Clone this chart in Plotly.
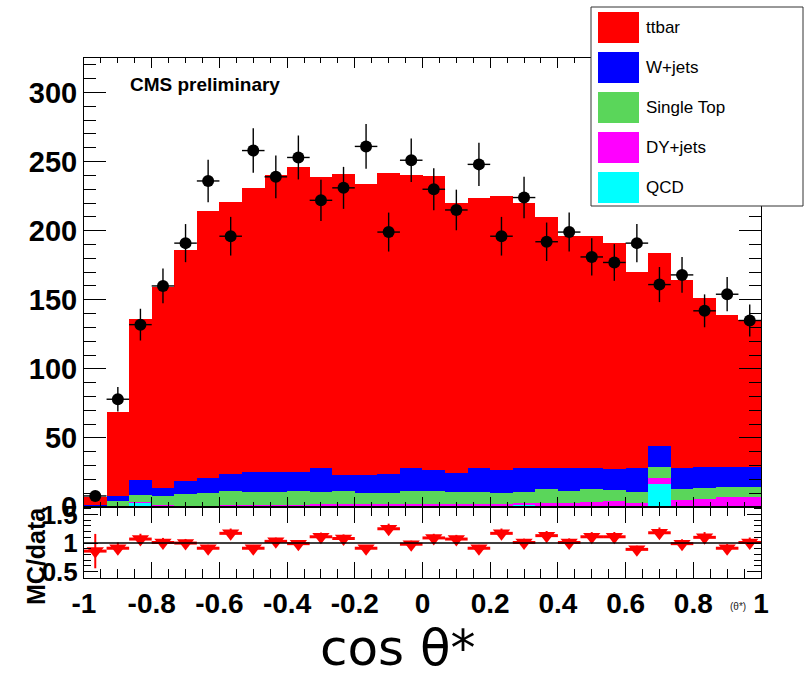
import plotly.graph_objects as go

# ---------------- data ----------------
n_bins = 30
bin_width = 2.0 / n_bins
bin_centers = [round(-1 + bin_width * (i + 0.5), 4) for i in range(n_bins)]

qcd = [0.3, 0.5, 3.0, 0.6, 0.5, 0.5, 0.5, 0.5, 0.5, 0.5,
       0.6, 0.5, 0.6, 0.5, 0.6, 0.5, 0.6, 0.5, 0.6, 1.2,
       0.8, 1.0, 0.6, 0.6, 0.6, 16.7, 0.6, 0.6, 0.6, 0.6]
dy_jets = [0.5, 0.5, 0.5, 0.5, 0.5, 0.5, 0.8, 0.8, 1.2, 1.2,
           1.8, 1.8, 1.8, 1.8, 1.8, 1.8, 1.8, 1.8, 1.8, 1.8,
           2.3, 2.1, 2.8, 4.0, 2.5, 4.6, 4.5, 5.0, 6.4, 6.9]
single_top = [0.5, 3.3, 5.2, 7.1, 8.2, 8.9, 10.3, 9.3, 8.9, 9.9,
              8.5, 9.2, 8.0, 8.0, 9.0, 9.0, 8.5, 8.5, 7.7, 7.9,
              9.7, 8.7, 9.4, 7.7, 7.5, 7.4, 7.7, 7.9, 7.3, 6.8]
w_jets = [0.5, 3.7, 10.9, 5.8, 9.6, 10.9, 12.1, 14.5, 14.5, 13.5,
          17.1, 11.6, 12.8, 13.3, 17.1, 15.6, 13.5, 17.6, 16.5, 17.6,
          15.2, 16.2, 15.2, 15.0, 17.4, 15.7, 15.2, 15.7, 14.7, 14.7]
ttbar = [5.5, 61.0, 116.4, 145.0, 167.2, 193.2, 197.3, 205.9, 214.9, 220.9,
         211.0, 217.8, 210.8, 218.3, 211.5, 213.0, 195.6, 195.5, 198.4, 191.5,
         182.0, 168.0, 168.0, 163.7, 142.0, 139.6, 136.0, 121.8, 110.0, 106.0]

data = [8, 78, 132, 160, 191, 236, 196, 258, 239, 253,
        222, 231, 261, 199, 251, 230, 215, 248, 196, 224,
        192, 199, 181, 177, 191, 161, 168, 142, 154, 135]
data_err = [2.8, 8.8, 11.5, 12.6, 13.8, 15.4, 14.0, 16.1, 15.5, 15.9,
            14.9, 15.2, 16.2, 14.1, 15.8, 15.2, 14.7, 15.7, 14.0, 15.0,
            13.9, 14.1, 13.5, 13.3, 13.8, 12.7, 13.0, 11.9, 12.4, 11.6]

ratio = [0.86, 0.91, 1.07, 1.01, 1.00, 0.91, 1.17, 0.91, 1.03, 0.99,
         1.11, 1.08, 0.91, 1.25, 0.98, 1.09, 1.07, 0.91, 1.17, 1.01,
         1.13, 1.01, 1.11, 1.11, 0.89, 1.18, 0.99, 1.10, 0.91, 1.01]
ratio_err = [0.30, 0.10, 0.093, 0.08, 0.072, 0.059, 0.084, 0.057, 0.066, 0.062,
             0.074, 0.071, 0.056, 0.089, 0.062, 0.072, 0.073, 0.058, 0.084, 0.067,
             0.081, 0.072, 0.082, 0.083, 0.064, 0.093, 0.076, 0.092, 0.073, 0.087]

x_tick_vals = [-1, -0.8, -0.6, -0.4, -0.2, 0, 0.2, 0.4, 0.6, 0.8, 1]
x_tick_text = ["-1", "-0.8", "-0.6", "-0.4", "-0.2", "0", "0.2", "0.4", "0.6", "0.8", "1"]
y_tick_vals = [0, 50, 100, 150, 200, 250, 300]
r_tick_vals = [0.5, 1, 1.5]
r_tick_text = ["0.5", "1", "1.5"]

stack = [("QCD", qcd, "#00ffff"),
         ("DY+jets", dy_jets, "#ff00ff"),
         ("Single Top", single_top, "#5ad65a"),
         ("W+jets", w_jets, "#0000ff"),
         ("ttbar", ttbar, "#ff0000")]
legend_order = ["ttbar", "W+jets", "Single Top", "DY+jets", "QCD"]
colors = {name: c for name, _, c in stack}

# ---------------- layout geometry (pixels) ----------------
W, H = 806, 678
ML, MR, MT, MB = 84, 45, 58, 100
PW, PH = W - ML - MR, H - MT - MB
def xp(px):
    return (px - ML) / PW
def yp(py):
    return (MT + PH - py) / PH
split = yp(507)

fig = go.Figure()
for name, vals, col in stack:
    fig.add_trace(go.Bar(x=bin_centers, y=vals, width=bin_width, name=name,
                         marker=dict(color=col, line=dict(width=0)),
                         xaxis="x", yaxis="y", showlegend=False))

fig.add_trace(go.Scatter(x=bin_centers, y=data, mode="markers",
                         marker=dict(color="black", size=12, symbol="circle"),
                         error_y=dict(type="data", array=data_err, color="black",
                                      thickness=1.4, width=0),
                         error_x=dict(type="constant", value=bin_width / 2, color="black",
                                      thickness=1.4, width=0),
                         xaxis="x", yaxis="y", showlegend=False, name="data"))

fig.add_trace(go.Scatter(x=bin_centers, y=ratio, mode="markers",
                         marker=dict(color="#ff0000", size=15, symbol="triangle-down"),
                         error_y=dict(type="data", array=ratio_err, color="#ff0000",
                                      thickness=2, width=0),
                         error_x=dict(type="constant", value=bin_width / 2, color="#ff0000",
                                      thickness=3, width=0),
                         xaxis="x2", yaxis="y2", showlegend=False, name="MC/data"))

tickfont_x = dict(family="Liberation Sans, Arial", size=28, color="black", weight="bold")
tickfont_y = dict(family="Liberation Sans, Arial", size=29, color="black", weight="bold")
tickfont_r = dict(family="Liberation Sans, Arial", size=26, color="black", weight="bold")

common_x = dict(range=[-1, 1], showline=True, linecolor="black", linewidth=1,
                mirror="ticks", ticks="inside", tickcolor="black", showgrid=False,
                zeroline=False, tickvals=x_tick_vals)

fig.update_layout(
    width=W, height=H, margin=dict(l=ML, r=MR, t=MT, b=MB),
    paper_bgcolor="white", plot_bgcolor="white",
    barmode="stack", bargap=0,
    xaxis=dict(common_x, domain=[0, 1], anchor="y", showticklabels=False,
               ticklen=10, minor=dict(dtick=0.05, ticklen=5, ticks="inside", tickcolor="black")),
    yaxis=dict(domain=[split, 1], anchor="x", range=[0, 325], showline=True,
               linecolor="black", linewidth=1, mirror="ticks", ticks="inside",
               ticklen=22, tickcolor="black", tickvals=y_tick_vals, tickfont=tickfont_y,
               showgrid=False, zeroline=False,
               minor=dict(dtick=10, ticklen=12, ticks="inside", tickcolor="black")),
    xaxis2=dict(common_x, domain=[0, 1], anchor="y2", matches="x", ticktext=x_tick_text,
                tickfont=tickfont_x, ticklen=16,
                minor=dict(dtick=0.05, ticklen=9, ticks="inside", tickcolor="black")),
    yaxis2=dict(domain=[0, split], anchor="x2", range=[0.39, 1.63], showline=True,
                linecolor="black", linewidth=1, mirror="ticks", ticks="inside",
                ticklen=14, tickcolor="black", tickvals=r_tick_vals, ticktext=r_tick_text,
                tickfont=tickfont_r, showgrid=False, zeroline=False,
                minor=dict(dtick=0.1, ticklen=7, ticks="inside", tickcolor="black")),
)

shapes = [dict(type="line", xref="x2", yref="y2", x0=-1, x1=1, y0=1, y1=1,
               line=dict(color="black", width=1.5), layer="above")]
# legend box (drawn on top, covering the frame like in the reference)
shapes.append(dict(type="rect", xref="paper", yref="paper", x0=xp(591), x1=xp(803),
                   y0=yp(206), y1=yp(7), fillcolor="white",
                   line=dict(color="#333333", width=1), layer="above"))
annotations = []
for k, name in enumerate(legend_order):
    top = 12 + 40 * k
    shapes.append(dict(type="rect", xref="paper", yref="paper", x0=xp(598), x1=xp(639),
                       y0=yp(top + 31), y1=yp(top), fillcolor=colors[name],
                       line=dict(width=0), layer="above"))
    annotations.append(dict(xref="paper", yref="paper", x=xp(644), y=yp(top + 15.5),
                            xanchor="left", yanchor="middle", text=name, showarrow=False,
                            font=dict(family="Liberation Sans, Arial", size=17, color="black")))

annotations.append(dict(xref="paper", yref="paper", x=xp(128), y=yp(84), xanchor="left",
                        yanchor="middle", text="CMS preliminary", showarrow=False,
                        font=dict(family="Liberation Sans, Arial", size=19, color="black",
                                  weight="bold")))
annotations.append(dict(xref="paper", yref="paper", x=xp(36), y=yp(556), xanchor="center",
                        yanchor="middle", text="MC/data", textangle=-90, showarrow=False,
                        font=dict(family="Liberation Sans, Arial", size=25, color="black",
                                  weight="bold")))
annotations.append(dict(xref="paper", yref="paper", x=xp(738), y=yp(606), xanchor="center",
                        yanchor="middle", text="(θ*)", showarrow=False,
                        font=dict(family="Liberation Sans, Arial", size=10, color="#222222")))
annotations.append(dict(xref="paper", yref="paper", x=xp(398), y=yp(648), xanchor="center",
                        yanchor="middle", text="cos θ*", showarrow=False,
                        font=dict(family="DejaVu Sans", size=50, color="black")))

fig.update_layout(shapes=shapes, annotations=annotations)
fig.write_html("out.html")
